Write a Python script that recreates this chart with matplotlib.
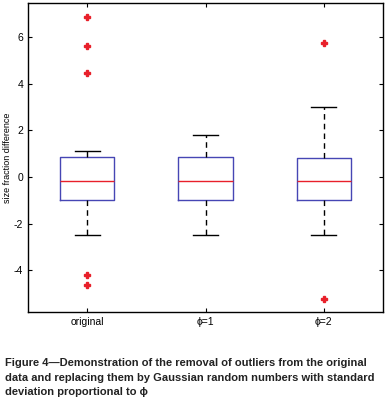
import numpy as np
import matplotlib
matplotlib.use("Agg")
import matplotlib.pyplot as plt

labels = ["original", "\u03d5=1", "\u03d5=2"]
q1 = [-1.0, -1.0, -1.0]
med = [-0.17, -0.17, -0.17]
q3 = [0.85, 0.85, 0.83]
whislo = [-2.5, -2.5, -2.5]
whishi = [1.1, 1.78, 3.0]
fliers = [[6.85, 5.62, 4.43, -4.2, -4.6], [], [5.73, -5.2]]

stats = []
for i in range(len(labels)):
    stats.append(dict(label=labels[i], q1=q1[i], med=med[i], q3=q3[i],
                      whislo=whislo[i], whishi=whishi[i], fliers=fliers[i]))

plt.rcParams['font.family'] = ['Liberation Sans', 'DejaVu Sans']
fig = plt.figure(figsize=(3.9, 4.15), dpi=100)
ax = fig.add_axes([0.072, 0.248, 0.910, 0.745])

ax.bxp(stats, positions=[1, 2, 3], widths=0.46,
       boxprops=dict(color='#4646b4', linewidth=1.0),
       medianprops=dict(color='#e8202a', linewidth=1.0),
       whiskerprops=dict(color='black', linestyle=(0, (4, 3)), linewidth=1.0),
       capprops=dict(color='black', linewidth=1.0),
       capwidths=0.21,
       flierprops=dict(marker='P', markerfacecolor='#e8202a',
                       markeredgecolor='#e8202a', markersize=5, linestyle='none'))

ax.set_xlim(0.5, 3.5)
ax.set_ylim(-5.78, 7.45)
ax.set_yticks([-4, -2, 0, 2, 4, 6])
ax.set_yticklabels(["-4", "-2", "0", "2", "4", "6"])
ax.tick_params(direction='in', top=True, right=True, labelsize=7.5, length=3)
ax.set_ylabel("size fraction difference", fontsize=6.5, labelpad=1.5)
for s in ax.spines.values():
    s.set_linewidth(1.0)

caption = ("Figure 4\u2014Demonstration of the removal of outliers from the original\n"
           "data and replacing them by Gaussian random numbers with standard\n"
           "deviation proportional to \u03d5")
fig.text(0.012, 0.138, caption, fontsize=8.0, fontweight='bold',
         va='top', ha='left', linespacing=1.6, color='#222222')

fig.savefig("out.png", dpi=100)
